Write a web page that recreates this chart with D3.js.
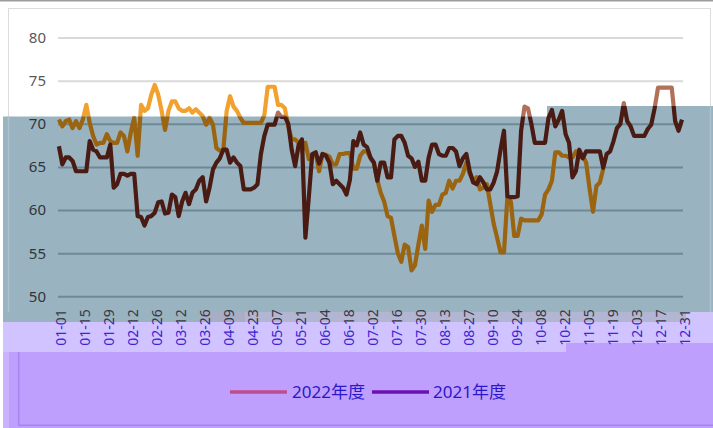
<!DOCTYPE html>
<html><head><meta charset="utf-8">
<script src="https://cdn.jsdelivr.net/npm/d3@7"></script>
<style>body{margin:0;background:#fff}svg{display:block}</style>
</head><body><svg id="c" width="713" height="428"></svg>
<script>
// ---- data (sampled every 2 days from 01-01) ----
const seriesNames = ["2022年度", "2021年度"];
const values2022 = [
70.5,69.7,70.3,70.5,69.5,70.3,69.5,70.5,72.2,70.1,
68.6,67.6,67.8,67.8,68.8,68.0,67.8,67.8,69.0,68.6,
66.8,69.0,70.7,66.3,72.2,71.5,71.8,73.4,74.5,73.4,
71.5,69.3,71.5,72.6,72.6,71.8,71.5,71.5,71.8,71.3,
71.7,71.3,70.9,69.9,70.7,69.9,67.2,66.9,66.9,71.5,
73.2,72.0,71.5,70.7,70.1,70.1,70.1,70.1,70.1,70.1,
71.0,74.3,74.3,74.3,72.2,72.2,71.8,69.7,68.2,68.2,
67.8,66.8,67.8,65.9,66.2,66.6,64.5,66.5,66.4,66.2,
65.3,65.3,66.5,66.5,66.6,66.6,64.8,64.8,66.3,66.8,
66.8,66.0,65.5,63.5,62.0,61.0,59.3,59.1,57.0,55.0,
54.0,56.0,55.7,53.0,53.6,56.0,58.2,55.5,61.1,59.8,
60.6,60.6,61.8,62.0,63.4,62.5,63.4,63.4,64.2,65.5,
64.2,63.4,63.8,62.4,62.6,63.0,60.7,58.4,56.8,55.1,
55.1,61.5,61.0,57.0,57.0,59.0,58.8,58.8,58.8,58.8,
58.8,59.5,61.8,62.4,63.4,66.7,66.7,66.3,66.3,66.1,
66.1,66.8,66.1,66.3,65.5,62.5,59.8,62.8,63.2,64.8
];
const values2021 = [
67.4,65.3,66.1,66.1,65.7,64.5,64.5,64.5,64.5,68.0,
67.0,66.8,66.1,66.1,66.1,67.6,62.6,63.0,64.2,64.2,
64.0,64.2,64.2,59.3,59.2,58.2,59.2,59.3,59.7,60.9,
61.0,59.6,59.7,61.8,61.5,59.3,61.0,62.0,60.7,62.0,
62.4,63.4,63.8,61.0,62.6,64.7,65.5,66.0,67.0,67.0,
65.5,66.1,65.5,65.1,62.4,62.4,62.4,62.6,63.0,66.5,
68.6,69.9,69.9,69.9,71.3,70.8,70.8,70.0,67.0,65.1,
67.5,68.2,56.8,61.5,66.5,66.7,65.4,66.5,66.3,65.5,
63.0,63.4,63.0,62.6,61.8,63.5,68.0,67.5,69.0,67.6,
67.3,66.1,65.5,63.4,65.5,65.5,63.8,63.8,68.2,68.6,
68.6,67.8,66.3,66.0,65.0,65.6,63.4,63.4,66.1,67.6,
67.6,66.5,66.3,66.3,67.2,67.2,66.8,65.1,66.0,66.5,
64.5,63.2,63.0,63.8,63.2,62.4,62.4,63.2,64.5,67.0,
69.2,61.6,61.5,61.5,61.6,69.2,72.0,71.8,70.0,67.8,
67.8,67.8,67.8,70.7,71.6,69.7,70.5,71.5,68.8,67.8,
63.8,64.5,67.0,66.0,66.8,66.8,66.8,66.8,66.8,64.9,
66.5,66.8,68.0,69.5,70.0,72.4,70.3,69.7,68.6,68.6,
68.6,68.6,69.4,69.9,71.8,74.2,74.2,74.2,74.2,74.2,
70.3,69.2,70.5
];
const yTicks = [50, 55, 60, 65, 70, 75, 80];
const xTickLabels = ["01-01","01-15","01-29","02-12","02-26","03-12","03-26","04-09","04-23",
  "05-07","05-21","06-04","06-18","07-02","07-16","07-30","08-13","08-27","09-10","09-24",
  "10-08","10-22","11-05","11-19","12-03","12-17","12-31"];
const sampleStepDays = 2;
const labelStepDays = 14;

// ---- drawing ----
const svg = d3.select("#c");
const FONT = "'Noto Sans','Noto Sans CJK SC',sans-serif";
const x = d3.scaleLinear().domain([0, 364]).range([58.9, 682]);
const y = d3.scaleLinear().domain([50, 80]).range([296.3, 37.6]);

const pts = vals => vals.map((v, i) => [i * sampleStepDays, v]);
const line = d3.line().x(d => x(d[0])).y(d => y(d[1]));

const colOut = { "2022年度": "#F2A12E", "2021年度": "#B27058" };
const colIn  = { "2022年度": "#9A6410", "2021年度": "#4A1B13" };
const series = [ { name: seriesNames[0], data: pts(values2022) },
                 { name: seriesNames[1], data: pts(values2021) } ];
const LW = 4.2;

// top rule + chart frame
svg.append("rect").attr("x",0).attr("y",0).attr("width",713).attr("height",1.5).attr("fill","#9c9c9c");
svg.append("rect").attr("x",8.5).attr("y",8.5).attr("width",702).attr("height",400)
  .attr("fill","#fff").attr("stroke","#dcdcdc");

// base grid + lines
const yAxisG = d3.axisLeft(y).tickValues(yTicks).tickSize(-(682 - 58) - 1).tickFormat("");
const g0 = svg.append("g").attr("transform","translate(58,0)").call(yAxisG);
g0.select(".domain").remove();
g0.selectAll("line").attr("stroke","#d9d9d9").attr("stroke-width",2);

const lines0 = svg.append("g");
series.forEach(s => lines0.append("path").attr("d", line(s.data)).attr("fill","none")
  .attr("stroke", colOut[s.name]).attr("stroke-width",LW).attr("stroke-linejoin","round"));

// overlay panel
const ovPts = [[3,116.5],[547,116.5],[547,106],[713,106],[713,312],[3,312]];
svg.append("clipPath").attr("id","ov").append("polygon").attr("points", ovPts.join(" "));
svg.append("polygon").attr("points", ovPts.join(" ")).attr("fill","#9AB3C1");
const g1 = svg.append("g").attr("clip-path","url(#ov)");
g1.append("line").attr("x1",8.5).attr("x2",8.5).attr("y1",100).attr("y2",312).attr("stroke","#aec3ce").attr("stroke-width",1.5);
g1.append("line").attr("x1",710.5).attr("x2",710.5).attr("y1",100).attr("y2",312).attr("stroke","#aec3ce").attr("stroke-width",1.5);
const g1a = g1.append("g").attr("transform","translate(58,0)").call(yAxisG);
g1a.select(".domain").remove();
g1a.selectAll("line").attr("stroke","#6F8896").attr("stroke-width",2);
series.forEach(s => g1.append("path").attr("d", line(s.data)).attr("fill","none")
  .attr("stroke", colIn[s.name]).attr("stroke-width",LW).attr("stroke-linejoin","round"));

// y labels
svg.append("g").selectAll("text").data(yTicks).join("text")
  .attr("x",46).attr("y", d => y(d)).attr("dy","0.36em").attr("text-anchor","end")
  .attr("font-family",FONT).attr("font-size",15)
  .attr("fill", d => y(d) < 110 ? "#595959" : "#2f3538").text(d => d);

// lower bands
svg.append("rect").attr("x",3).attr("y",312).attr("width",197).attr("height",10).attr("fill","#9AB3C1");
svg.append("rect").attr("x",200).attr("y",312).attr("width",45).attr("height",10).attr("fill","#a9aec6");
svg.append("rect").attr("x",245).attr("y",312).attr("width",441).attr("height",10).attr("fill","#B3B6D3");
svg.append("rect").attr("x",686).attr("y",312).attr("width",27).attr("height",10).attr("fill","#CFC5FA");
svg.append("rect").attr("x",3).attr("y",322).attr("width",710).attr("height",106).attr("fill","#BF9FFE");
svg.append("rect").attr("x",3).attr("y",322).attr("width",563).attr("height",30).attr("fill","#D1C3FF");
svg.append("rect").attr("x",566).attr("y",322).attr("width",147).attr("height",21).attr("fill","#D1C3FF");
svg.append("rect").attr("x",3).attr("y",352).attr("width",6).attr("height",76).attr("fill","#C9B2FF");
svg.append("rect").attr("x",18).attr("y",352).attr("width",1.5).attr("height",74).attr("fill","#A585F2");
svg.append("rect").attr("x",18).attr("y",424.5).attr("width",695).attr("height",1.5).attr("fill","#A585F2");

// x labels
const xTickVals = xTickLabels.map((d, i) => i * labelStepDays);
svg.append("clipPath").attr("id","xt").append("rect").attr("x",0).attr("y",300).attr("width",713).attr("height",22);
svg.append("clipPath").attr("id","xb").append("rect").attr("x",0).attr("y",322).attr("width",713).attr("height",60);
const xAxis = d3.axisBottom(x).tickValues(xTickVals).tickSize(0)
  .tickFormat((d, i) => xTickLabels[i]);
[["xt","#3a3a46"],["xb","#3B26D4"]].forEach(([cid, col]) => {
  const gx = svg.append("g").attr("clip-path",`url(#${cid})`)
    .append("g").attr("transform","translate(0,296.3)").call(xAxis);
  gx.select(".domain").remove();
  gx.selectAll("text").attr("font-family",FONT).attr("font-size",14).attr("fill",col)
    .attr("text-anchor","end").attr("transform","rotate(-90)")
    .attr("x",-13).attr("y",2).attr("dy","0.36em");
});

// legend
const leg = [ {name: seriesNames[0], x: 230, col: "#C04C8E", tx: 292},
              {name: seriesNames[1], x: 372, col: "#6A10B0", tx: 433} ];
leg.forEach(l => {
  svg.append("line").attr("x1",l.x).attr("x2",l.x+57).attr("y1",392).attr("y2",392)
    .attr("stroke",l.col).attr("stroke-width",3.5);
  svg.append("text").attr("x",l.tx).attr("y",392).attr("dy","0.36em")
    .attr("font-family",FONT).attr("font-size",17).attr("fill","#2B17C9").text(l.name);
});
</script></body></html>
